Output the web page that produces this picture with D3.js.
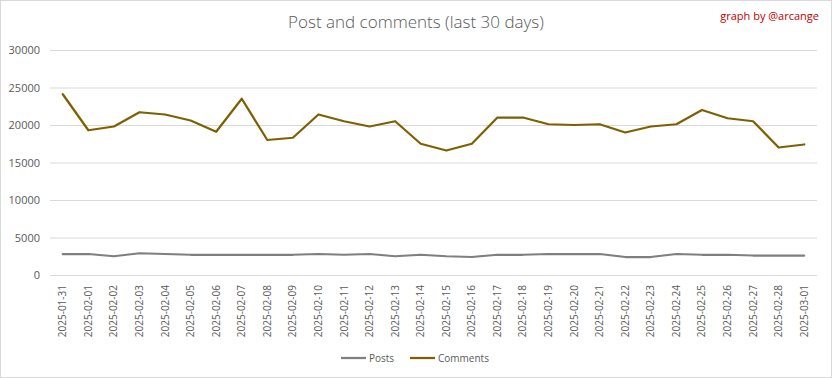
<!DOCTYPE html>
<html>
<head>
<meta charset="utf-8">
<script src="https://cdn.jsdelivr.net/npm/d3@7"></script>
<style>
  body { margin: 0; background: #fff; }
  text { font-family: "Open Sans", "Liberation Sans", sans-serif; }
</style>
</head>
<body>
<div id="chart"></div>
<script>
const dates = ["2025-01-31","2025-02-01","2025-02-02","2025-02-03","2025-02-04","2025-02-05","2025-02-06","2025-02-07","2025-02-08","2025-02-09","2025-02-10","2025-02-11","2025-02-12","2025-02-13","2025-02-14","2025-02-15","2025-02-16","2025-02-17","2025-02-18","2025-02-19","2025-02-20","2025-02-21","2025-02-22","2025-02-23","2025-02-24","2025-02-25","2025-02-26","2025-02-27","2025-02-28","2025-03-01"];
const posts = [2800,2800,2500,2900,2800,2700,2700,2700,2700,2700,2800,2700,2800,2500,2700,2500,2400,2700,2700,2800,2800,2800,2400,2400,2800,2700,2700,2600,2600,2600];
const comments = [24100,19300,19800,21700,21400,20600,19100,23500,18000,18300,21400,20500,19800,20500,17500,16600,17500,21000,21000,20100,20000,20100,19000,19800,20100,22000,20900,20500,17000,17400];
const yTicks = [0,5000,10000,15000,20000,25000,30000];

const series = [
  {name: "Posts", values: posts, color: "#7f7f7f"},
  {name: "Comments", values: comments, color: "#7f6000"}
];

let dim = {width: 832, height: 378};
let svg = d3.select('#chart').append('svg').attr('width', dim.width).attr('height', dim.height);

svg.append('rect')
  .attr('x', 0.5).attr('y', 0.5)
  .attr('width', dim.width - 1).attr('height', dim.height - 1)
  .attr('fill', '#fff').attr('stroke', '#d9d9d9');

let x = d3.scaleBand().domain(dates).range([50, 817]);
let y = d3.scaleLinear().domain([0, 30000]).range([275, 50]);

// grid
svg.append('g').selectAll('line').data(yTicks).enter().append('line')
  .attr('x1', 50).attr('x2', 817)
  .attr('y1', d => y(d) + 0.5).attr('y2', d => y(d) + 0.5)
  .attr('stroke', '#d9d9d9').attr('stroke-width', 1);

// y labels
let axisY = d3.axisLeft(y).tickValues(yTicks).tickSize(0).tickPadding(0).tickFormat(d3.format('d'));
let gy = svg.append('g').attr('transform', 'translate(40,0)').call(axisY);
gy.select('.domain').remove();
gy.selectAll('text').attr('fill', '#595959').style('font-size', '11px');

// x labels
let axisX = d3.axisBottom(x).tickSize(0).tickPadding(0);
let gx = svg.append('g').attr('transform', 'translate(0,283)').call(axisX);
gx.select('.domain').remove();
gx.selectAll('text')
  .attr('fill', '#595959').style('font-size', '10px')
  .attr('transform', 'rotate(-90)')
  .attr('text-anchor', 'end')
  .attr('x', -2).attr('y', 0).attr('dy', '0.35em');

// lines
let line = d3.line().x((d, i) => x(dates[i]) + x.bandwidth() / 2).y(d => y(d));
svg.append('g').selectAll('path').data(series).enter().append('path')
  .attr('d', d => line(d.values))
  .attr('fill', 'none')
  .attr('stroke', d => d.color)
  .attr('stroke-width', 2.25)
  .attr('stroke-linejoin', 'round')
  .attr('stroke-linecap', 'round');

// title
svg.append('text')
  .attr('x', 416).attr('y', 28)
  .attr('text-anchor', 'middle')
  .attr('fill', '#595959')
  .style('font-size', '17px').style('font-weight', 300)
  .text('Post and comments (last 30 days)');

svg.append('text')
  .attr('x', 819).attr('y', 20)
  .attr('text-anchor', 'end')
  .attr('fill', '#c00000')
  .style('font-size', '11px')
  .text('graph by @arcange');

// legend
let legend = svg.append('g').selectAll('g').data(series).enter().append('g')
  .attr('transform', (d, i) => `translate(${[341, 410][i]},358)`);
legend.append('line').attr('x1', 0).attr('x2', 25).attr('y1', 0).attr('y2', 0)
  .attr('stroke', d => d.color).attr('stroke-width', 2.25);
legend.append('text').attr('x', 28).attr('y', 0).attr('dy', '0.35em')
  .attr('fill', '#595959').style('font-size', '10px')
  .text(d => d.name);
</script>
</body>
</html>
